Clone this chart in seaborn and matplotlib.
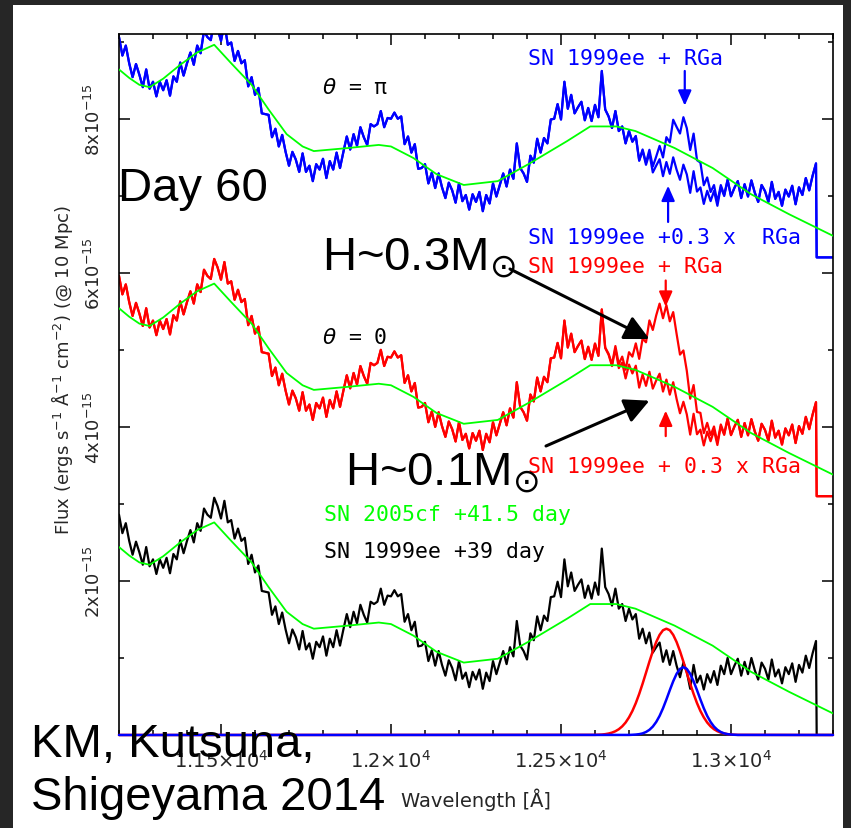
import numpy as np
import pandas as pd
import matplotlib
matplotlib.use("Agg")
import matplotlib.pyplot as plt
import seaborn as sns
from matplotlib.ticker import MultipleLocator, FixedLocator
from matplotlib.patches import Rectangle

# ---------------------------------------------------------------------------
# Data (flux in units of 1e-15 erg s^-1 A^-1 cm^-2 at 10 Mpc, wavelength in A)
# ---------------------------------------------------------------------------
wave = np.arange(11200, 13251, 10)

# SN 1999ee, +39 day
sn1999ee_flux = [
    2.86, 2.62, 2.75, 2.52, 2.34, 2.51, 2.37, 2.21, 2.44, 2.19,
    2.28, 2.09, 2.28, 2.17, 2.30, 2.10, 2.35, 2.28, 2.53, 2.36,
    2.52, 2.66, 2.50, 2.75, 2.65, 2.94, 2.86, 2.82, 3.08, 2.97,
    2.81, 3.04, 2.76, 2.79, 2.55, 2.68, 2.52, 2.56, 2.22, 2.34,
    2.11, 2.20, 1.87, 1.86, 1.85, 1.56, 1.67, 1.44, 1.59, 1.37,
    1.19, 1.37, 1.27, 1.11, 1.35, 1.11, 1.19, 0.99, 1.21, 1.14,
    1.28, 1.03, 1.25, 1.14, 1.36, 1.16, 1.37, 1.57, 1.40, 1.60,
    1.45, 1.69, 1.56, 1.46, 1.73, 1.70, 1.73, 1.90, 1.69, 1.81,
    1.80, 1.88, 1.80, 1.83, 1.47, 1.57, 1.36, 1.47, 1.15, 1.16,
    1.21, 0.96, 1.10, 0.90, 1.09, 0.91, 0.77, 0.97, 0.87, 0.71,
    0.96, 0.73, 0.81, 0.62, 0.82, 0.72, 0.85, 0.60, 0.81, 0.70,
    0.96, 0.79, 0.94, 1.09, 0.92, 1.14, 1.02, 1.48, 1.16, 1.09,
    0.98, 1.32, 1.23, 1.54, 1.36, 1.55, 1.48, 1.79, 1.80, 1.99,
    1.79, 2.28, 1.93, 2.11, 1.87, 1.95, 2.02, 1.78, 1.94, 1.77,
    1.98, 1.82, 2.42, 1.92, 1.83, 1.68, 1.90, 1.64, 1.70, 1.48,
    1.64, 1.50, 1.57, 1.25, 1.38, 1.19, 1.33, 1.07, 1.14, 1.20,
    0.95, 1.10, 0.91, 1.09, 0.90, 0.75, 0.94, 0.82, 0.60, 0.91,
    0.68, 0.77, 0.59, 0.79, 0.68, 0.83, 0.65, 0.90, 0.79, 1.00,
    0.79, 0.90, 0.99, 0.77, 0.95, 0.79, 1.00, 0.84, 0.72, 0.94,
    0.86, 0.72, 0.98, 0.76, 0.85, 0.67, 0.88, 0.79, 0.93, 0.69,
    0.91, 0.81, 1.03, 0.87, 1.06, 1.22,
]
# end of the observed range: the spectrum falls to zero
tail_wave = [13252, 13300]
tail_flux = [0.0, 0.0]

# SN 2005cf, +41.5 day (smoothed template)
sn2005cf_wave = [11200, 11230, 11260, 11290, 11330, 11380, 11430, 11480, 11530,
                 11590, 11640, 11693, 11740, 11773, 11874, 11964, 12000, 12066,
                 12134, 12214, 12314, 12404, 12518, 12586, 12663, 12719, 12834,
                 12946, 13059, 13171, 13300]
sn2005cf_flux = [2.44, 2.33, 2.24, 2.21, 2.32, 2.50, 2.66, 2.76, 2.52,
                 2.24, 1.92, 1.60, 1.44, 1.38, 1.42, 1.46, 1.44, 1.29,
                 1.08, 0.94, 0.99, 1.21, 1.51, 1.70, 1.70, 1.64, 1.42,
                 1.16, 0.82, 0.56, 0.28]

# RGa emission profiles: theta = 0 (red) and theta = pi (blue)
rga0_wave = np.arange(12600, 13021, 10)
rga0_flux = [0.002, 0.004, 0.006, 0.011, 0.019, 0.031, 0.049, 0.075, 0.112, 0.162,
             0.229, 0.312, 0.414, 0.533, 0.666, 0.808, 0.952, 1.088, 1.207, 1.300,
             1.360, 1.380, 1.360, 1.300, 1.207, 1.088, 0.952, 0.808, 0.666, 0.533,
             0.414, 0.312, 0.229, 0.162, 0.112, 0.075, 0.049, 0.031, 0.019, 0.011,
             0.006, 0.004, 0.002]
rgapi_wave = np.arange(12700, 13021, 10)
rgapi_flux = [0.001, 0.003, 0.006, 0.011, 0.021, 0.039, 0.067, 0.109, 0.169, 0.248,
              0.347, 0.461, 0.582, 0.697, 0.794, 0.858, 0.880, 0.858, 0.794, 0.697,
              0.582, 0.461, 0.347, 0.248, 0.169, 0.109, 0.067, 0.039, 0.021, 0.011,
              0.006, 0.003, 0.001]

# vertical offsets of the theta = 0 and theta = pi panels
offset_theta0 = 3.1
offset_thetapi = 6.2
weak_fraction = 0.3

xlim = (11200, 13300)
ylim = (0, 9.1)
xtick_values = [11500, 12000, 12500, 13000]
xtick_labels = [r"$1.15{\times}10^{4}$", r"$1.2{\times}10^{4}$",
                r"$1.25{\times}10^{4}$", r"$1.3{\times}10^{4}$"]
ytick_values = [2, 4, 6, 8]
ytick_labels = ["2x10$^{-15}$", "4x10$^{-15}$", "6x10$^{-15}$", "8x10$^{-15}$"]

# ---------------------------------------------------------------------------
# Derived spectra
# ---------------------------------------------------------------------------
base = pd.Series(sn1999ee_flux, index=wave)
rga0 = pd.Series(rga0_flux, index=rga0_wave).reindex(wave, fill_value=0.0)
rgapi = pd.Series(rgapi_flux, index=rgapi_wave).reindex(wave, fill_value=0.0)

full_wave = list(wave) + tail_wave


def with_tail(series, offset):
    return list(series.values) + [offset + f for f in tail_flux]


spectra = {
    "black": (full_wave, with_tail(base, 0.0), "black"),
    "red_strong": (full_wave, with_tail(base + offset_theta0 + rga0, offset_theta0), "#ff0000"),
    "red_weak": (full_wave, with_tail(base + offset_theta0 + weak_fraction * rga0, offset_theta0), "#ff0000"),
    "blue_strong": (full_wave, with_tail(base + offset_thetapi + rgapi, offset_thetapi), "#0000ff"),
    "blue_weak": (full_wave, with_tail(base + offset_thetapi + weak_fraction * rgapi, offset_thetapi), "#0000ff"),
}

# ---------------------------------------------------------------------------
# Figure
# ---------------------------------------------------------------------------
sns.set_style("ticks")
plt.rcParams["font.family"] = ["DejaVu Sans"]
plt.rcParams["mathtext.fontset"] = "dejavusans"

W, H = 851, 829
fig = plt.figure(figsize=(W / 100, H / 100), dpi=100, facecolor="#262626")


def fxy(px, py):
    return px / W, 1 - py / H


fig.add_artist(Rectangle((13 / W, 0), (843 - 13) / W, (H - 6) / H,
                         transform=fig.transFigure, facecolor="white",
                         edgecolor="none", zorder=-10))

ax = fig.add_axes([119 / W, 1 - 736 / H, (833 - 119) / W, (736 - 35) / H])
ax.set_facecolor("white")

for name, (xs, ys, col) in spectra.items():
    sns.lineplot(x=xs, y=ys, ax=ax, color=col, linewidth=1.6,
                 estimator=None, sort=False, zorder=2)

for off in (0.0, offset_theta0, offset_thetapi):
    sns.lineplot(x=sn2005cf_wave, y=[f + off for f in sn2005cf_flux], ax=ax,
                 color="#00ff00", linewidth=1.3, estimator=None, sort=False,
                 zorder=3)

# RGa profiles drawn on the zero line
for wv, fl, col in ((rga0_wave, rga0_flux, "#ff0000"), (rgapi_wave, rgapi_flux, "#0000ff")):
    xs = [xlim[0]] + list(wv) + [xlim[1]]
    ys = [0.0] + list(fl) + [0.0]
    sns.lineplot(x=xs, y=ys, ax=ax, color=col, linewidth=1.8,
                 estimator=None, sort=False, zorder=4, clip_on=False)

ax.set_xlim(*xlim)
ax.set_ylim(*ylim)

ax.xaxis.set_major_locator(FixedLocator(xtick_values))
ax.set_xticklabels(xtick_labels)
ax.xaxis.set_minor_locator(MultipleLocator(100))
ax.yaxis.set_major_locator(FixedLocator([0] + ytick_values))
ax.set_yticklabels([""] + ytick_labels)
ax.yaxis.set_minor_locator(MultipleLocator(1))

ax.tick_params(which="both", direction="in", top=True, right=True,
               color="black", width=1.1)
ax.tick_params(which="major", length=8)
ax.tick_params(which="minor", length=3.5)
ax.tick_params(axis="x", labelsize=14, pad=10)
ax.tick_params(axis="y", labelsize=13, pad=11)
for lbl in ax.get_yticklabels():
    lbl.set_rotation(90)
    lbl.set_va("center")

for sp in ax.spines.values():
    sp.set_color("black")
    sp.set_linewidth(1.2)

ax.set_xlabel("Wavelength [Å]", fontsize=14)
ax.xaxis.set_label_coords(0.5, (736 - 800) / 701)
ax.xaxis.label.set_va("center")
ax.set_ylabel("Flux (ergs s$^{-1}$ Å$^{-1}$ cm$^{-2}$) (@ 10 Mpc)", fontsize=13)
ax.yaxis.set_label_coords((62 - 119) / 714, (736 - 370) / 701)
ax.yaxis.label.set_va("center")

# small arrows marking the RGa emission
small_arrow = dict(arrowstyle="-|>,head_length=0.9,head_width=0.4",
                   mutation_scale=10, lw=1.6, shrinkA=0, shrinkB=0)
ax.annotate("", xy=(12864, 8.17), xytext=(12864, 8.62),
            arrowprops=dict(color="#0000ff", **small_arrow))
ax.annotate("", xy=(12815, 7.13), xytext=(12815, 6.66),
            arrowprops=dict(color="#0000ff", **small_arrow))
ax.annotate("", xy=(12808, 5.56), xytext=(12808, 5.90),
            arrowprops=dict(color="#ff0000", **small_arrow))
ax.annotate("", xy=(12808, 4.21), xytext=(12808, 3.88),
            arrowprops=dict(color="#ff0000", **small_arrow))

# spectrum captions
mono = dict(family="DejaVu Sans Mono", fontsize=15.5, ha="left", va="center")
fig.text(*fxy(528, 59), "SN 1999ee + RGa", color="#0000ff", **mono)
fig.text(*fxy(528, 238), "SN 1999ee +0.3 x  RGa", color="#0000ff", **mono)
fig.text(*fxy(528, 267), "SN 1999ee + RGa", color="#ff0000", **mono)
fig.text(*fxy(528, 467), "SN 1999ee + 0.3 x RGa", color="#ff0000", **mono)
fig.text(*fxy(324, 515), "SN 2005cf +41.5 day", color="#00ff00", **mono)
fig.text(*fxy(324, 552), "SN 1999ee +39 day", color="black", **mono)
fig.text(*fxy(322, 88), r"$\theta$ = π", color="black", **mono)
fig.text(*fxy(322, 338), r"$\theta$ = 0", color="black", **mono)

# slide annotations
slide = dict(family="Liberation Sans", fontsize=34, color="black",
             ha="left", va="baseline")
fig.text(*fxy(118, 201), "Day 60", **slide)
fig.text(*fxy(322, 270), r"H~0.3M$_{\odot}$", **slide)
fig.text(*fxy(345, 485), r"H~0.1M$_{\odot}$", **slide)
fig.text(*fxy(31, 757), "KM, Kutsuna,", **slide)
fig.text(*fxy(31, 810), "Shigeyama 2014", **slide)

big_arrow = dict(arrowstyle="-|>,head_length=0.6,head_width=0.3",
                 mutation_scale=25, lw=2.2, color="black", shrinkA=0, shrinkB=0)
ax.annotate("", xy=(12760, 5.14), xycoords="data",
            xytext=fxy(510, 270), textcoords="figure fraction",
            arrowprops=big_arrow, annotation_clip=False)
ax.annotate("", xy=(12760, 4.34), xycoords="data",
            xytext=fxy(546, 447), textcoords="figure fraction",
            arrowprops=big_arrow, annotation_clip=False)

fig.savefig("out.png", dpi=100, facecolor=fig.get_facecolor())
